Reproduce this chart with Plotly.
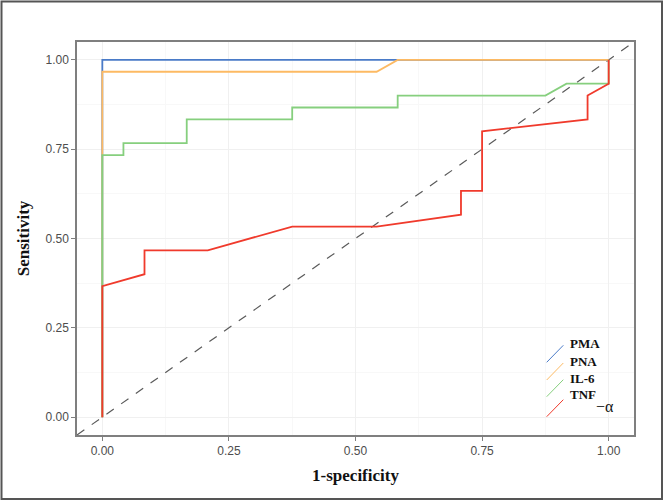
import plotly.graph_objects as go

# ROC data (1-specificity, sensitivity)
series_names = ["PMA", "PNA", "IL-6", "TNF-α"]
legend_main = ["PMA", "PNA", "IL-6", "TNF"]
legend_sub = ["", "", "", "−α"]
colors = ["#4A7BC8", "#FDBA63", "#86CF7E", "#F03A2C"]

pma_x = [0.0, 0.0, 0.5833, 1.0]
pma_y = [0.0, 1.0, 1.0, 1.0]

pna_x = [0.0, 0.0, 0.5417, 0.5833, 1.0]
pna_y = [0.0, 0.9667, 0.9667, 1.0, 1.0]

il6_x = [0.0, 0.0, 0.0417, 0.0417, 0.1667, 0.1667, 0.375, 0.375, 0.5833, 0.5833, 0.875, 0.9167, 1.0, 1.0]
il6_y = [0.0, 0.7333, 0.7333, 0.7667, 0.7667, 0.8333, 0.8333, 0.8667, 0.8667, 0.9, 0.9, 0.9333, 0.9333, 1.0]

tnf_x = [0.0, 0.0, 0.0833, 0.0833, 0.2083, 0.375, 0.5417, 0.7083, 0.7083, 0.75, 0.75, 0.9583, 0.9583, 1.0, 1.0]
tnf_y = [0.0, 0.3667, 0.4, 0.4667, 0.4667, 0.5333, 0.5333, 0.5667, 0.6333, 0.6333, 0.8, 0.8333, 0.9, 0.9333, 1.0]

xs = [pma_x, pna_x, il6_x, tnf_x]
ys = [pma_y, pna_y, il6_y, tnf_y]

tick_vals = [0.0, 0.25, 0.5, 0.75, 1.0]
tick_text = ["0.00", "0.25", "0.50", "0.75", "1.00"]
axis_range = [-0.05, 1.05]

fig = go.Figure()

# reference diagonal
fig.add_trace(go.Scatter(x=axis_range, y=axis_range, mode="lines",
                         line=dict(color="#5A5A5A", width=1.2, dash="dash"),
                         showlegend=False, hoverinfo="skip"))

for name, x, y, c in zip(series_names, xs, ys, colors):
    fig.add_trace(go.Scatter(x=x, y=y, mode="lines", name=name,
                             line=dict(color=c, width=1.8), showlegend=False))

W, H = 666, 504
L, R, T, B = 77, 32, 42, 69
pw, ph = W - L - R, H - T - B


def px(xp):
    return (xp - L) / pw


def py(yp):
    return (H - B - yp) / ph


# custom legend with diagonal key glyphs
shapes = []
annotations = []
glyph_y_bottom = [362.3, 380.0, 396.7, 416.7]
text_y = [343.5, 361.0, 378.5, 394.5]
for i, (lab, c) in enumerate(zip(legend_main, colors)):
    yb = glyph_y_bottom[i]
    shapes.append(dict(type="line", xref="paper", yref="paper",
                       x0=px(546.7), y0=py(yb), x1=px(563.3), y1=py(yb - 17),
                       line=dict(color=c, width=1)))
    annotations.append(dict(xref="paper", yref="paper", x=px(568), y=py(text_y[i]),
                            text="<b>%s</b>" % lab, showarrow=False,
                            xanchor="left", yanchor="middle",
                            font=dict(family="Liberation Serif", size=13, color="#111111")))
    if legend_sub[i]:
        annotations.append(dict(xref="paper", yref="paper", x=px(594), y=py(406),
                                text=legend_sub[i], showarrow=False,
                                xanchor="left", yanchor="middle",
                                font=dict(family="Liberation Serif", size=16, color="#111111")))

# outer frame
shapes.append(dict(type="rect", xref="paper", yref="paper",
                   x0=px(1.5), y0=py(1.5), x1=px(662), y1=py(499),
                   line=dict(color="#555555", width=2), fillcolor="rgba(0,0,0,0)", layer="below"))

axis_common = dict(range=axis_range, tickvals=tick_vals, ticktext=tick_text,
                   showline=True, mirror=True, linecolor="#7F7F7F", linewidth=1.5,
                   ticks="outside", ticklen=4, tickcolor="#7F7F7F", tickwidth=1,
                   showgrid=True, gridcolor="#F0F0F0", gridwidth=0.7,
                   minor=dict(showgrid=True, gridcolor="#F8F8F8", gridwidth=0.5,
                              tickvals=[0.125, 0.375, 0.625, 0.875]),
                   zeroline=False,
                   tickfont=dict(family="Liberation Sans", size=12, color="#4D4D4D"))

fig.update_layout(
    width=W, height=H,
    margin=dict(l=L, r=R, t=T, b=B),
    paper_bgcolor="white", plot_bgcolor="white",
    xaxis=dict(**axis_common,
               title=dict(text="<b>1-specificity</b>", standoff=12,
                          font=dict(family="Liberation Serif", size=17, color="#111111"))),
    yaxis=dict(**axis_common,
               title=dict(text="<b>Sensitivity</b>", standoff=12,
                          font=dict(family="Liberation Serif", size=17, color="#111111"))),
    shapes=shapes, annotations=annotations, showlegend=False,
)

fig.write_html("out.html", config={"displayModeBar": False},
               post_script="document.body.style.margin='0';document.body.style.overflow='hidden';")
